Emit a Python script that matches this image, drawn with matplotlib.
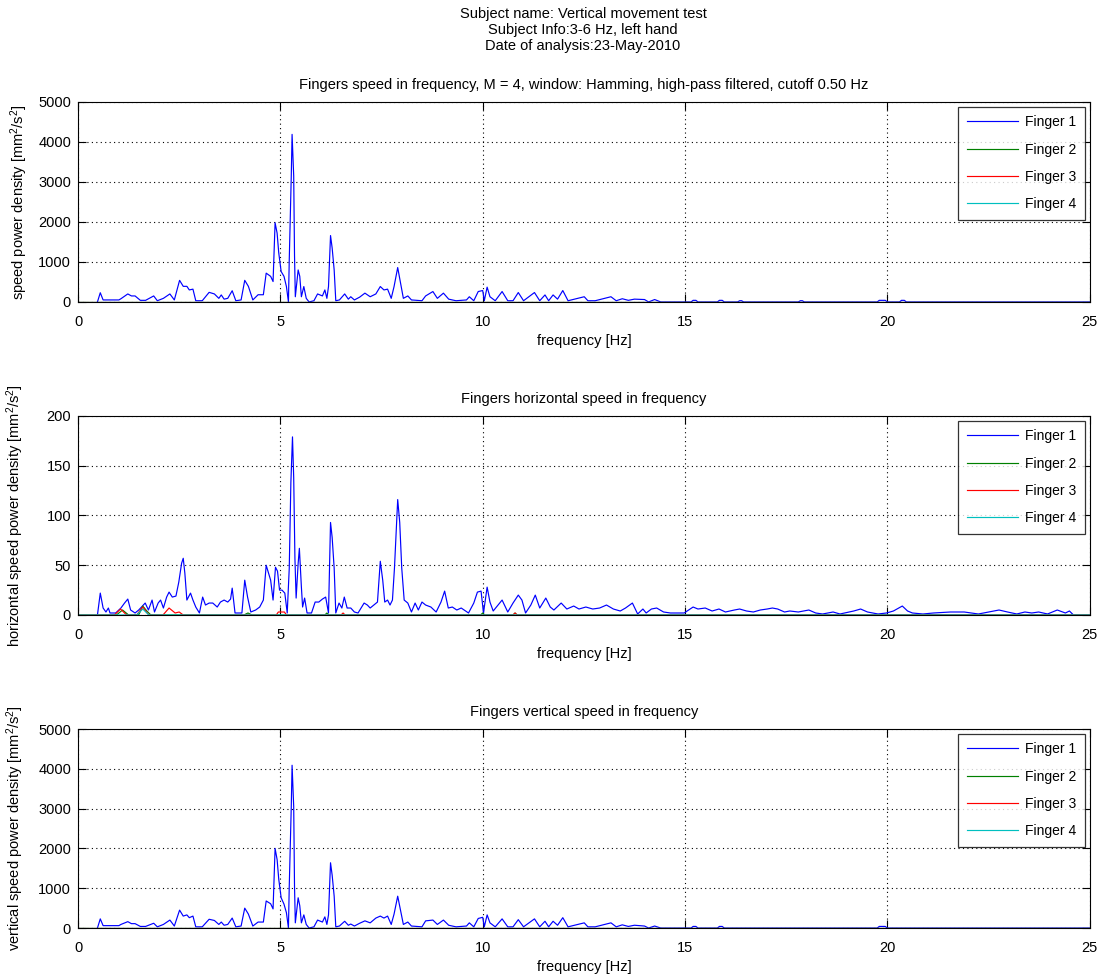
import matplotlib
matplotlib.use("Agg")
import matplotlib.pyplot as plt

plt.rcParams['font.family'] = ['Liberation Sans', 'DejaVu Sans']
plt.rcParams['mathtext.fontset'] = 'custom'
plt.rcParams['mathtext.rm'] = 'Liberation Sans'
plt.rcParams['mathtext.it'] = 'Liberation Sans'

# finger 1, speed power density (top panel)
speed_f1_hz = [0.48, 0.55, 0.62, 1.01, 1.06, 1.23, 1.32, 1.41, 1.54, 1.67, 1.87, 1.96, 2.11, 2.27, 2.38,
               2.51, 2.60, 2.69, 2.75, 2.84, 2.91, 3.07, 3.24, 3.37, 3.48, 3.54, 3.61, 3.70, 3.81, 3.90,
               4.03, 4.12, 4.21, 4.32, 4.45, 4.58, 4.65, 4.76, 4.82, 4.87, 4.92, 4.96, 5.02, 5.09, 5.15,
               5.20, 5.22, 5.27, 5.29, 5.33, 5.35, 5.37, 5.44, 5.48, 5.52, 5.58, 5.64, 5.71, 5.83, 5.92,
               6.04, 6.10, 6.15, 6.19, 6.24, 6.28, 6.33, 6.37, 6.46, 6.59, 6.68, 6.74, 6.83, 6.96, 7.09,
               7.22, 7.36, 7.47, 7.56, 7.65, 7.74, 7.81, 7.90, 7.97, 8.04, 8.15, 8.24, 8.50, 8.59, 8.77,
               8.88, 9.03, 9.16, 9.34, 9.60, 9.67, 9.78, 9.89, 10.00, 10.04, 10.11, 10.18, 10.31, 10.48,
               10.62, 10.75, 10.88, 11.01, 11.28, 11.41, 11.54, 11.63, 11.74, 11.85, 11.98, 12.11, 12.51,
               12.60, 12.78, 13.17, 13.30, 13.45, 13.60, 13.75, 14.00, 14.10, 14.25, 14.40,
               15.15, 15.20, 15.27, 15.32, 15.80, 15.85, 15.92, 15.97, 16.30, 16.35, 16.40, 16.45,
               17.80, 17.85, 17.90, 17.95, 19.75, 19.80, 19.95, 20.00, 20.30, 20.35, 20.42, 20.47, 25.00]
speed_f1 = [0, 230, 50, 50, 80, 200, 150, 150, 40, 40, 150, 30, 90, 200, 50,
            540, 390, 390, 300, 320, 30, 30, 240, 200, 90, 175, 70, 90, 280, 30,
            50, 540, 390, 50, 180, 180, 720, 640, 510, 1980, 1720, 1230, 760, 640, 385,
            0, 1050, 3150, 4190, 3150, 1180, 130, 800, 640, 130, 385, 90, 0, 30, 200,
            150, 300, 90, 385, 1660, 1350, 800, 30, 50, 200, 70, 130, 50, 120, 220,
            130, 200, 385, 300, 320, 90, 385, 860, 470, 90, 150, 50, 30, 150, 260,
            90, 220, 70, 30, 50, 130, 30, 260, 285, 30, 370, 130, 30, 260,
            30, 30, 235, 30, 235, 30, 175, 30, 175, 70, 285, 30, 130,
            30, 30, 130, 30, 80, 40, 70, 60, 0, 60, 0,
            0, 40, 40, 0, 0, 40, 40, 0, 0, 30, 30, 0,
            0, 30, 30, 0, 0, 40, 40, 0, 0, 40, 40, 0, 0]

# finger 1, horizontal speed power density (middle panel)
horiz_f1_hz = [0.48, 0.55, 0.62, 0.69, 0.75, 0.79, 0.93, 1.06, 1.15, 1.23, 1.30, 1.41, 1.50, 1.59, 1.66,
               1.74, 1.83, 1.89, 1.98, 2.04, 2.11, 2.19, 2.25, 2.33, 2.42, 2.49, 2.56, 2.60, 2.64, 2.69,
               2.78, 2.84, 2.91, 3.00, 3.08, 3.15, 3.24, 3.33, 3.44, 3.52, 3.61, 3.70, 3.77, 3.81, 3.88,
               4.05, 4.12, 4.19, 4.27, 4.39, 4.49, 4.58, 4.65, 4.70, 4.76, 4.82, 4.88, 4.93, 4.98, 5.04,
               5.11, 5.17, 5.22, 5.26, 5.30, 5.33, 5.36, 5.39, 5.44, 5.47, 5.52, 5.55, 5.60, 5.66, 5.77,
               5.86, 5.95, 6.04, 6.12, 6.19, 6.24, 6.28, 6.33, 6.37, 6.45, 6.52, 6.58, 6.65, 6.74, 6.83,
               6.92, 7.07, 7.15, 7.22, 7.31, 7.40, 7.47, 7.53, 7.58, 7.65, 7.71, 7.77, 7.82, 7.90, 7.95,
               8.00, 8.06, 8.15, 8.24, 8.33, 8.41, 8.50, 8.59, 8.72, 8.85, 8.97, 9.06, 9.15, 9.25, 9.36,
               9.47, 9.65, 9.78, 9.87, 9.96, 10.02, 10.11, 10.18, 10.26, 10.48, 10.62, 10.75, 10.88, 10.97,
               11.06, 11.19, 11.30, 11.41, 11.56, 11.67, 11.76, 11.94, 12.08, 12.25, 12.38, 12.55, 12.72,
               12.89, 13.06, 13.23, 13.40, 13.53, 13.70, 13.83, 13.96, 14.04, 14.17, 14.30, 14.47, 14.64,
               14.81, 14.98, 15.20, 15.32, 15.50, 15.67, 15.84, 16.00, 16.22, 16.35, 16.52, 16.69, 16.86,
               17.03, 17.16, 17.29, 17.46, 17.59, 17.80, 18.06, 18.23, 18.40, 18.66, 18.83, 19.17, 19.34,
               19.51, 19.77, 19.98, 20.15, 20.37, 20.50, 20.62, 20.88, 21.14, 21.56, 21.90, 22.25, 22.50,
               22.76, 22.97, 23.20, 23.40, 23.57, 23.74, 23.96, 24.20, 24.40, 24.50, 24.60, 25.00]
horiz_f1 = [0, 22, 7, 3, 7, 2, 2, 7, 12, 16, 5, 2, 5, 9, 12,
            5, 15, 3, 12, 15, 7, 18, 23, 18, 19, 33, 52, 57, 42, 15,
            22, 15, 8, 2, 18, 10, 12, 12, 8, 13, 15, 13, 16, 27, 2,
            2, 35, 18, 3, 5, 8, 15, 50, 43, 35, 15, 48, 44, 25, 25,
            22, 2, 47, 133, 179, 138, 57, 17, 52, 67, 28, 8, 17, 2, 2,
            13, 13, 16, 18, 2, 93, 78, 47, 2, 12, 7, 18, 7, 7, 3,
            2, 12, 10, 7, 10, 13, 54, 35, 13, 15, 10, 15, 47, 116, 93,
            47, 15, 12, 3, 12, 5, 13, 10, 8, 3, 13, 24, 7, 8, 5,
            7, 2, 12, 23, 24, 2, 28, 13, 4, 15, 3, 12, 20, 15,
            2, 10, 20, 7, 17, 8, 5, 12, 6, 9, 6, 8, 6,
            7, 10, 6, 4, 7, 12, 1, 6, 2, 6, 7, 3, 2,
            2, 2, 8, 6, 7, 4, 6, 3, 5, 6, 4, 3, 5,
            6, 7, 6, 3, 4, 3, 5, 2, 1, 3, 1, 4, 6,
            3, 1, 2, 4, 9, 4, 2, 1, 2, 3, 3, 1, 3,
            5, 3, 1, 3, 2, 3, 1, 5, 2, 4, 0, 0]

# small contributions of fingers 2-4 in the horizontal panel
horiz_f2_hz = [0.0, 0.95, 1.10, 1.25, 1.50, 1.60, 1.70, 1.80, 4.10, 4.20, 4.30, 6.10, 6.15, 6.20,
               9.95, 10.0, 10.05, 10.75, 10.80, 10.85, 25.0]
horiz_f2 = [0, 0, 5, 0, 0, 9, 4, 0, 0, 2, 0, 0, 2, 0,
            0, 2, 0, 0, 2, 0, 0]
horiz_f3_hz = [0.0, 0.90, 1.05, 1.20, 1.45, 1.60, 1.75, 2.10, 2.25, 2.40, 2.50, 2.60, 4.90, 4.95, 5.10,
               5.15, 6.50, 6.55, 6.60, 10.75, 10.80, 10.85, 25.0]
horiz_f3 = [0, 0, 6, 0, 0, 8, 0, 0, 7, 2, 3, 0, 0, 3, 3,
            0, 0, 2, 0, 0, 2, 0, 0]
horiz_f4_hz = [0.0, 1.45, 1.60, 1.75, 25.0]
horiz_f4 = [0, 0, 6, 0, 0]

# finger 1, vertical speed power density (bottom panel)
vert_f1_hz = [0.48, 0.55, 0.62, 1.01, 1.06, 1.23, 1.32, 1.41, 1.54, 1.67, 1.87, 1.96, 2.11, 2.27, 2.38,
              2.51, 2.60, 2.69, 2.75, 2.84, 2.91, 3.07, 3.24, 3.37, 3.48, 3.54, 3.61, 3.70, 3.81, 3.90,
              4.03, 4.12, 4.21, 4.32, 4.45, 4.58, 4.65, 4.76, 4.82, 4.87, 4.92, 4.96, 5.02, 5.09, 5.15,
              5.20, 5.22, 5.27, 5.29, 5.33, 5.35, 5.37, 5.44, 5.48, 5.52, 5.58, 5.64, 5.71, 5.83, 5.92,
              6.04, 6.10, 6.15, 6.19, 6.24, 6.28, 6.33, 6.37, 6.46, 6.59, 6.68, 6.74, 6.83, 6.96, 7.09,
              7.22, 7.36, 7.47, 7.56, 7.65, 7.74, 7.81, 7.90, 7.97, 8.04, 8.15, 8.24, 8.50, 8.59, 8.77,
              8.88, 9.03, 9.16, 9.34, 9.60, 9.67, 9.78, 9.89, 10.00, 10.04, 10.11, 10.18, 10.31, 10.48,
              10.62, 10.75, 10.88, 11.01, 11.28, 11.41, 11.54, 11.63, 11.74, 11.85, 11.98, 12.11, 12.51,
              12.60, 12.78, 13.17, 13.30, 13.45, 13.60, 13.75, 14.00, 14.10, 14.25, 14.40,
              15.15, 15.20, 15.27, 15.32, 15.80, 15.85, 15.92, 15.97, 19.75, 19.80, 19.95, 20.00, 25.00]
vert_f1 = [0, 230, 60, 60, 90, 160, 110, 110, 40, 40, 120, 30, 90, 200, 50,
           450, 300, 330, 260, 300, 30, 30, 220, 190, 90, 150, 70, 90, 250, 30,
           50, 500, 350, 50, 150, 150, 680, 610, 480, 2000, 1720, 1230, 760, 600, 385,
           0, 1050, 3050, 4090, 3050, 1050, 130, 760, 560, 130, 330, 90, 0, 30, 200,
           150, 280, 90, 330, 1640, 1330, 800, 30, 50, 170, 70, 100, 50, 120, 180,
           130, 250, 300, 250, 300, 90, 350, 800, 450, 90, 150, 50, 30, 180, 200,
           90, 200, 70, 30, 50, 130, 30, 240, 270, 30, 330, 130, 30, 230,
           30, 30, 210, 30, 230, 30, 170, 30, 170, 70, 260, 30, 130,
           30, 30, 130, 30, 80, 40, 70, 50, 0, 50, 0,
           0, 40, 40, 0, 0, 40, 40, 0, 0, 40, 40, 0, 0]

zero_hz = [0.0, 25.0]
zero_vals = [0, 0]

finger_names = ['Finger 1', 'Finger 2', 'Finger 3', 'Finger 4']
finger_colors = ['#0000ff', '#008000', '#ff0000', '#00bfbf']

fig = plt.figure(figsize=(11.02, 9.74), dpi=100)

fig.text(0.529, 0.986, 'Subject name: Vertical movement test', ha='center', va='center', fontsize=10.5)
fig.text(0.529, 0.969, 'Subject Info:3-6 Hz, left hand', ha='center', va='center', fontsize=10.5)
fig.text(0.529, 0.953, 'Date of analysis:23-May-2010', ha='center', va='center', fontsize=10.5)

panels = [
    ([0.0708, 0.690, 0.918, 0.2053],
     [(speed_f1_hz, speed_f1), (zero_hz, zero_vals), (zero_hz, zero_vals), (zero_hz, zero_vals)],
     'Fingers speed in frequency, M = 4, window: Hamming, high-pass filtered, cutoff 0.50 Hz',
     r'speed power density [mm$^2$/s$^2$]', 5000, 1000, -0.047),
    ([0.0708, 0.3686, 0.918, 0.2043],
     [(horiz_f1_hz, horiz_f1), (horiz_f2_hz, horiz_f2), (horiz_f3_hz, horiz_f3), (horiz_f4_hz, horiz_f4)],
     'Fingers horizontal speed in frequency',
     r'horizontal speed power density [mm$^2$/s$^2$]', 200, 50, -0.051),
    ([0.0708, 0.0472, 0.918, 0.2043],
     [(vert_f1_hz, vert_f1), (zero_hz, zero_vals), (zero_hz, zero_vals), (zero_hz, zero_vals)],
     'Fingers vertical speed in frequency',
     r'vertical speed power density [mm$^2$/s$^2$]', 5000, 1000, -0.051),
]

for rect, series, title, ylabel, ymax, ystep, ylab_x in panels:
    ax = fig.add_axes(rect)
    for (fx, fy), name, col in zip(series, finger_names, finger_colors):
        ax.plot(fx, fy, color=col, lw=0.85, label=name)
    ax.set_xlim(0, 25)
    ax.set_ylim(0, ymax)
    ax.set_xticks(range(0, 26, 5))
    ax.set_yticks(range(0, ymax + 1, ystep))
    ax.grid(True, color='black', linestyle=(0, (1, 3)), lw=0.8)
    ax.tick_params(direction='in', top=True, right=True, length=6, labelsize=10.5)
    ax.tick_params(axis='x', pad=9.5)
    ax.tick_params(axis='y', pad=5)
    for s in ax.spines.values():
        s.set_linewidth(0.8)
    ax.set_title(title, fontsize=10.5, pad=9.5)
    ax.set_xlabel('frequency [Hz]', fontsize=10.5, labelpad=3.5)
    ax.set_ylabel(ylabel, fontsize=10.5)
    ax.yaxis.set_label_coords(ylab_x, 0.5)
    leg = ax.legend(loc='upper right', fontsize=10, frameon=True, fancybox=False,
                    edgecolor='black', handlelength=3.7, handletextpad=0.5,
                    borderaxespad=0.35, labelspacing=0.96, borderpad=0.6)
    leg.get_frame().set_linewidth(0.9)

fig.savefig('out.png', dpi=100)
